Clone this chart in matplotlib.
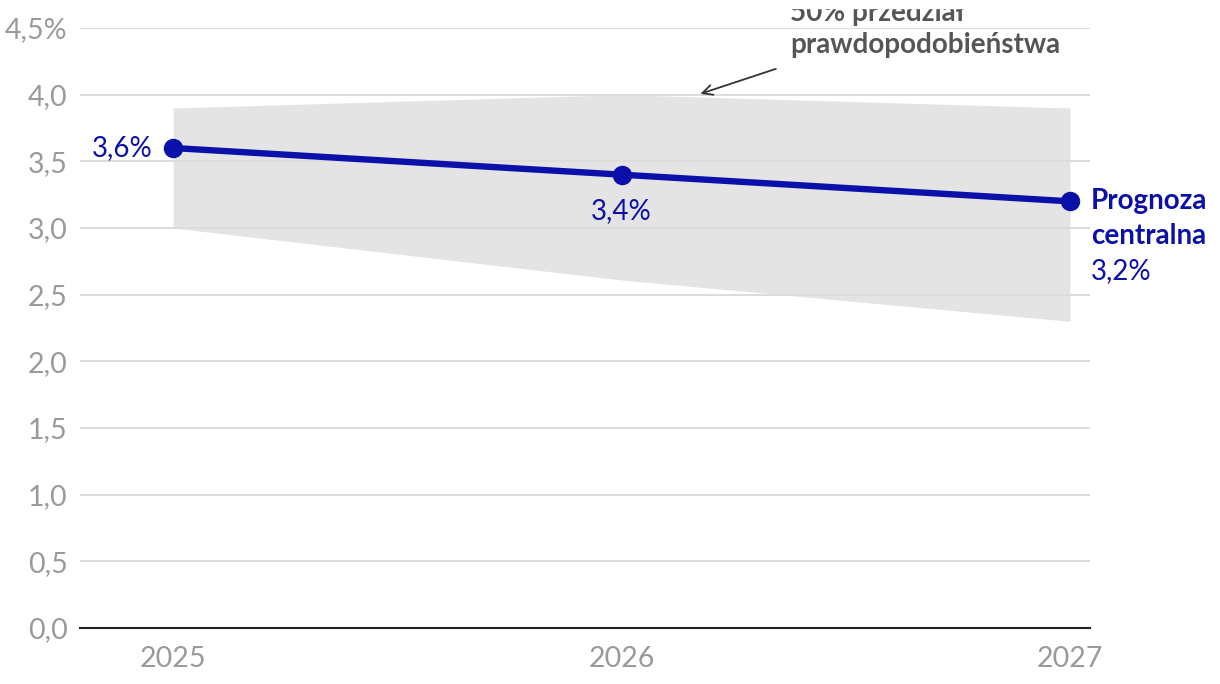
import matplotlib.pyplot as plt
import numpy as np
from matplotlib.patches import Rectangle

plt.rcParams['font.family'] = ['Lato', 'DejaVu Sans']

# data
years = [2025, 2026, 2027]
central = [3.6, 3.4, 3.2]
band_low = [3.0, 2.61, 2.3]
band_high = [3.9, 4.0, 3.9]
yticks = [0, 0.5, 1.0, 1.5, 2.0, 2.5, 3.0, 3.5, 4.0, 4.5]
ytick_labels = ['0,0', '0,5', '1,0', '1,5', '2,0', '2,5', '3,0', '3,5', '4,0', '4,5%']
point_labels = ['3,6%', '3,4%', '3,2%']

blue = '#0a10a8'
grey_txt = '#9a9a9a'

fig = plt.figure(figsize=(12.2, 6.84), dpi=100)
ax = fig.add_axes([80/1220, 56/684, 1010/1220, 600/684])

ax.fill_between(years, band_low, band_high, color='#e4e4e4', lw=0, zorder=1)
for y in yticks[1:]:
    ax.axhline(y, color='#dcdcdc', lw=1.4, zorder=2)
ax.plot(years, central, color=blue, lw=4.6, marker='o', ms=13, zorder=4,
        solid_capstyle='round')

ax.set_xlim(2025 - 93/448, 2027 + 20/448)
ax.set_ylim(0, 4.5)
ax.set_yticks(yticks)
ax.set_yticklabels(ytick_labels)
ax.set_xticks(years)
ax.set_xticklabels([str(y) for y in years])
ax.tick_params(axis='both', length=0, labelsize=20.5, labelcolor=grey_txt)
ax.tick_params(axis='y', pad=9)
ax.tick_params(axis='x', pad=13)
for s in ['top', 'right', 'left']:
    ax.spines[s].set_visible(False)
ax.spines['bottom'].set_color('#222222')
ax.spines['bottom'].set_linewidth(1.5)
ax.spines['bottom'].set_zorder(5)

# point labels
ax.annotate(point_labels[0], (years[0], central[0]), xytext=(-15, 0),
            textcoords='offset points', ha='right', va='center',
            fontsize=20, color=blue)
ax.annotate(point_labels[1], (years[1], central[1]), xytext=(0, -26),
            textcoords='offset points', ha='center', va='center',
            fontsize=20, color=blue)
for i, (txt, bold) in enumerate([('Prognoza', True), ('centralna', True),
                                 (point_labels[2], False)]):
    ax.annotate(txt, (years[2], central[2]), xytext=(15, -25 * i),
                textcoords='offset points', ha='left', va='center',
                fontsize=20, color=blue,
                fontweight='bold' if bold else 'normal',
                annotation_clip=False)

# band annotation
ax.annotate('', xy=(2026.17, 4.0), xytext=(2026.35, 4.2),
            arrowprops=dict(arrowstyle='->', color='#333333', lw=1.3,
                            mutation_scale=18))
ax.text(2026.376, 4.555, '50% przedział', ha='left', va='baseline',
        fontsize=20, fontweight='bold', color='#555555', clip_on=False)
ax.text(2026.376, 4.3125, 'prawdopodobieństwa', ha='left', va='baseline',
        fontsize=20, fontweight='bold', color='#555555', clip_on=False)
# top of the figure cuts the first line in the original
fig.patches.append(Rectangle((700/1220, 1 - 8/684), 420/1220, 8/684,
                             transform=fig.transFigure, color='white',
                             zorder=10))

fig.savefig('out.png', dpi=100)
